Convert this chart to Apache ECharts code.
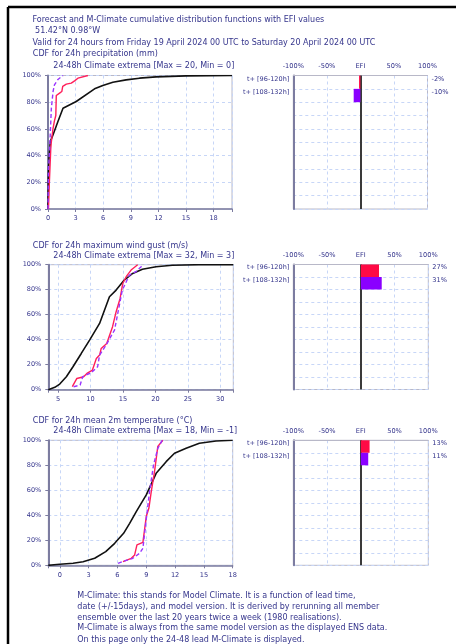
<!DOCTYPE html>
<html>
<head>
<meta charset="utf-8">
<script src="https://cdn.jsdelivr.net/npm/echarts@6/dist/echarts.min.js"></script>
<style>
html,body{margin:0;padding:0;background:#fff;}
#c{width:456px;height:644px;}
</style>
</head>
<body>
<div id="c"></div>
<script>
// ---------- DATA ----------
const headerLines = [
  'Forecast and M-Climate cumulative distribution functions with EFI values',
  ' 51.42°N 0.98°W',
  'Valid for 24 hours from Friday 19 April 2024 00 UTC to Saturday 20 April 2024 00 UTC'
];
const panelTitles = [
  ['CDF for 24h precipitation (mm)', '24-48h Climate extrema [Max = 20, Min = 0]'],
  ['CDF for 24h maximum wind gust (m/s)', '24-48h Climate extrema [Max = 32, Min = 3]'],
  ['CDF for 24h mean 2m temperature (°C)', '24-48h Climate extrema [Max = 18, Min = -1]']
];
const footerLines = [
  'M-Climate: this stands for Model Climate. It is a function of lead time,',
  'date (+/-15days), and model version. It is derived by rerunning all member',
  'ensemble over the last 20 years twice a week (1980 realisations).',
  'M-Climate is always from the same model version as the displayed ENS data.',
  'On this page only the 24-48 lead M-Climate is displayed.'
];
const efiTopLabels = {'-100': '-100%', '-50': '-50%', '0': 'EFI', '50': '50%', '100': '100%'};
const efiRows = ['t+ [96-120h]', 't+ [108-132h]', '', '', '', '', '', '', '', ''];

// precipitation (mm) vs cumulative %
const precipClimate = [[0,0],[0.04,25.5],[0.11,38],[0.25,50.5],[0.54,55.5],[1.08,65.5],[1.63,75.5],[3.07,80.5],[5.06,90],[5.96,92.5],[7.05,95],[8.49,96.75],[9.94,98],[11.75,99],[15,99.75],[20,100]];
const precipFc96 = [[0.05,0],[0.15,20],[0.3,45],[0.36,50],[0.54,60],[0.7,66],[0.85,70],[0.9,85],[1.26,86.8],[1.5,88],[1.6,91.8],[1.99,93.5],[2.53,94.3],[2.89,96],[3.25,98],[4.34,100]];
const precipFc108 = [[0,0],[0.05,30],[0.18,45],[0.36,75],[0.55,88],[0.7,93],[1.08,97],[1.63,100]];
// wind gust (m/s)
const windClimate = [[3.5,0],[4.5,1.9],[5.26,4.5],[6.28,10.4],[7.3,18.4],[8.58,29],[9.86,39.7],[11.4,53],[12.92,74.4],[13.95,79.7],[15.2,87.7],[16.5,93],[18,96.3],[20.1,98.4],[22.6,99.5],[26.7,100],[32,100]];
const windFc96 = [[7.2,2.4],[7.9,9],[8.94,10.4],[9.45,13],[10.3,15.7],[10.9,25],[11.4,27.7],[11.65,33],[12.5,37],[13.4,50.4],[13.95,62.4],[14.56,73],[14.97,85],[15.5,90.4],[16.25,95.7],[17.27,100]];
const windFc108 = [[7.4,2.4],[8.4,3.7],[8.8,10.4],[10.1,13.6],[11.1,18.4],[11.4,27.7],[12.4,35.7],[13.7,47.7],[14.2,61],[14.9,79.7],[16,91.7],[17,94.4],[17.8,98.4],[18.1,100]];
// 2m temperature (°C)
const tempClimate = [[-1.2,0],[0,0.8],[1.38,1.6],[2.42,2.9],[3.63,5.6],[4.78,10.9],[5.71,17.6],[6.64,25.6],[7.27,33.6],[7.96,42.9],[9,56.3],[10.03,73.6],[11.07,82.9],[11.94,89.6],[13.15,93.6],[14.53,97.6],[16.26,99.5],[18,100]];
const tempFc96 = [[6.57,2.9],[7.44,5.6],[7.79,8.3],[8.03,16.3],[8.65,18.4],[9,39],[9.27,45.6],[9.52,59],[9.86,75],[10.2,95],[10.73,100]];
const tempFc108 = [[6.06,1.6],[6.75,3.5],[7.6,5.6],[8.3,9.6],[8.65,13.6],[8.93,32.3],[9.34,59],[9.76,80.3],[10.2,93.6],[10.66,100]];

const precipEFI = [-2, -10];
const windEFI = [27, 31];
const tempEFI = [13, 11];

// axis ranges
const cdfX = [
  {min: 0, max: 20, step: 3},
  {min: 3.5, max: 32, split: 5, step: 5},
  {min: -1.2, max: 18, split: 6, step: 3}
];

// ---------- STYLE / LAYOUT ----------
const TXT = '#35358c';
const FONT = 'DejaVu Sans';
const RED = '#ff1f5a';
const PURPLE = '#9a35ff';
const BAR_RED = '#ff0a45';
const BAR_PURPLE = '#8a00ff';
const GRIDC = '#c7d6f7';

const cdfGrids = [
  {left: 48, top: 75.5, width: 184, height: 133.5},
  {left: 48.3, top: 264.7, width: 185, height: 125},
  {left: 48.3, top: 440.3, width: 184.4, height: 125}
];
const efiGrids = [
  {left: 293.3, top: 75.5, width: 134.2, height: 133.5},
  {left: 293.3, top: 264.5, width: 135, height: 125},
  {left: 293.3, top: 440.3, width: 135, height: 125}
];
const titlePos = [[54.3, 65.7], [245.7, 255.7], [421, 431]];

const grids = [];
const xAxes = [];
const yAxes = [];
const series = [];

const cdfData = [
  [precipClimate, precipFc96, precipFc108],
  [windClimate, windFc96, windFc108],
  [tempClimate, tempFc96, tempFc108]
];
const efiData = [precipEFI, windEFI, tempEFI];

for (let p = 0; p < 3; p++) {
  const gi = grids.length;
  grids.push(Object.assign({show: true, borderColor: '#b8b8c8', borderWidth: 1, containLabel: false}, cdfGrids[p]));
  const ax = cdfX[p];
  const xa = {
    type: 'value', gridIndex: gi, min: ax.min, max: ax.max,
    axisLine: {show: true, onZero: false, lineStyle: {color: '#7c7ca0', width: 1.5}},
    axisTick: {show: true, length: 3, lineStyle: {color: '#7c7ca0'}},
    splitLine: {show: true, lineStyle: {color: GRIDC, type: [3, 3], width: 1}},
    axisLabel: {color: TXT, fontFamily: FONT, fontSize: 6.6, margin: 6,
      showMinLabel: true, showMaxLabel: true, hideOverlap: false,
      formatter: (v) => (Math.abs(v / ax.step - Math.round(v / ax.step)) > 1e-6) ? '' : String(v)}
  };
  if (p === 0) { xa.interval = 3; } else { xa.splitNumber = ax.split; }
  const cxi = xAxes.length;
  xAxes.push(xa);
  const cyi = yAxes.length;
  yAxes.push({
    type: 'value', gridIndex: gi, min: 0, max: 100, interval: 20,
    axisLine: {show: true, onZero: false, lineStyle: {color: '#7c7ca0', width: 2}},
    axisTick: {show: true, length: 3, lineStyle: {color: '#7c7ca0'}},
    splitLine: {show: true, lineStyle: {color: GRIDC, type: [3, 3], width: 1}},
    axisLabel: {color: TXT, fontFamily: FONT, fontSize: 6.5, margin: 7, formatter: '{value}%'}
  });
  const [clim, f96, f108] = cdfData[p];
  series.push({type: 'line', xAxisIndex: cxi, yAxisIndex: cyi, data: clim, symbol: 'none', z: 3,
    lineStyle: {color: '#111', width: 1.6}});
  series.push({type: 'line', xAxisIndex: cxi, yAxisIndex: cyi, data: f96, symbol: 'none', z: 4,
    lineStyle: {color: RED, width: 1.4}});
  series.push({type: 'line', xAxisIndex: cxi, yAxisIndex: cyi, data: f108, symbol: 'none', z: 5,
    lineStyle: {color: PURPLE, width: 1.4, type: [4, 2.5]}});

  // EFI panel
  const ei = grids.length;
  grids.push(Object.assign({show: true, borderColor: '#b8b8c8', borderWidth: 1}, efiGrids[p]));
  const exi = xAxes.length;
  xAxes.push({
    type: 'value', gridIndex: ei, min: -100, max: 100, interval: 50, position: 'top',
    axisLine: {show: true, onZero: false, lineStyle: {color: '#b8b8c8', width: 1}},
    axisTick: {show: false},
    splitLine: {show: true, lineStyle: {color: GRIDC, type: [3, 3], width: 1}},
    axisLabel: {color: TXT, fontFamily: FONT, fontSize: 6.6, margin: 6,
      formatter: (v) => efiTopLabels[String(v)]}
  });
  const lyi = yAxes.length;
  yAxes.push({
    type: 'category', gridIndex: ei, data: efiRows, inverse: true, position: 'left',
    axisLine: {show: true, onZero: false, lineStyle: {color: '#7c7ca0', width: 2}},
    axisTick: {show: false},
    splitLine: {show: true, interval: 0, lineStyle: {color: GRIDC, type: [3, 3], width: 1}},
    axisLabel: {color: TXT, fontFamily: FONT, fontSize: 6.5, margin: 4, interval: 0, verticalAlign: 'bottom', lineHeight: 6}
  });
  const vals = efiData[p];
  const rightLabels = efiRows.map((r, i) => i < vals.length ? vals[i] + '%' : ' '.repeat(i));
  yAxes.push({
    type: 'category', gridIndex: ei, data: rightLabels, inverse: true, position: 'right',
    axisLine: {show: false}, axisTick: {show: false}, splitLine: {show: false},
    axisLabel: {color: TXT, fontFamily: FONT, fontSize: 6.6, margin: 4, interval: 0, verticalAlign: 'bottom', lineHeight: 6}
  });
  series.push({type: 'bar', xAxisIndex: exi, yAxisIndex: lyi, barWidth: '100%', z: 3,
    data: vals.map((v, i) => ({value: v, itemStyle: {color: i === 0 ? BAR_RED : BAR_PURPLE}})),
    markLine: {silent: true, symbol: 'none', label: {show: false}, z: 1,
      lineStyle: {color: '#3a3a3a', width: 2, type: 'solid'}, data: [{xAxis: 0}]}});
}

// ---------- TEXT ----------
const graphic = [];
function txt(x, y, s) {
  graphic.push({type: 'text', x: x, y: y, style: {text: s, fill: TXT, font: '8px "' + FONT + '"', verticalAlign: 'middle', align: 'left'}});
}
txt(32.5, 20, headerLines[0]);
txt(32.5, 30.7, headerLines[1]);
txt(32.5, 42.7, headerLines[2]);
for (let p = 0; p < 3; p++) {
  txt(32.8, titlePos[p][0], panelTitles[p][0]);
  txt(53.3, titlePos[p][1], panelTitles[p][1]);
}
const footY = [595.7, 606.6, 617.5, 628.4, 639.5];
footerLines.forEach((l, i) => txt(77.3, footY[i], l));
// page frame
graphic.push({type: 'line', shape: {x1: 8, y1: 7, x2: 456, y2: 7}, style: {stroke: '#000', lineWidth: 2.5}});
graphic.push({type: 'line', shape: {x1: 8, y1: 7, x2: 8, y2: 644}, style: {stroke: '#000', lineWidth: 2.5}});

const chart = echarts.init(document.getElementById('c'), null, {renderer: 'canvas'});
chart.setOption({
  animation: false,
  backgroundColor: '#fff',
  grid: grids, xAxis: xAxes, yAxis: yAxes, series: series, graphic: graphic
});
</script>
</body>
</html>
